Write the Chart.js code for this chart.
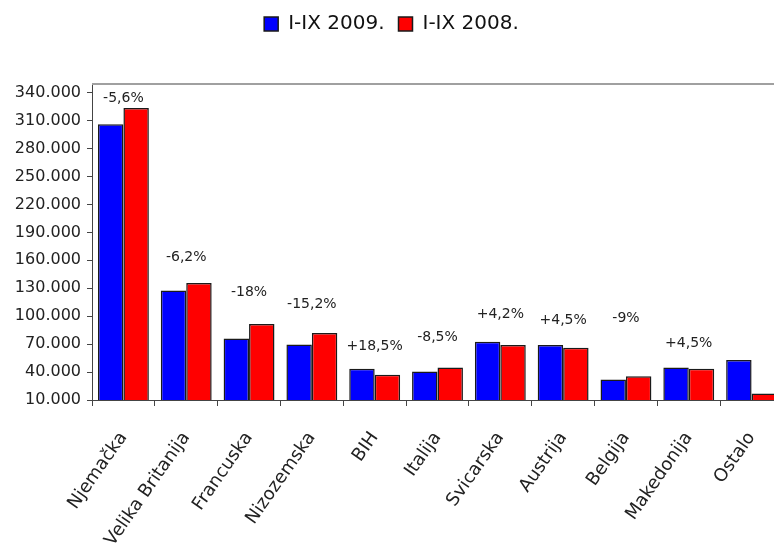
<!DOCTYPE html>
<html>
<head>
<meta charset="utf-8">
<script src="https://cdn.jsdelivr.net/npm/chart.js@4/dist/chart.umd.min.js"></script>
<style>
  html, body { margin: 0; padding: 0; background: #fff; overflow: hidden; }
  canvas { display: block; }
</style>
</head>
<body>
<canvas id="chart" width="792" height="547"></canvas>
<script>
// categories and values
var categories = ['Njemačka', 'Velika Britanija', 'Francuska', 'Nizozemska', 'BIH', 'Italija',
                  'Svicarska', 'Austrija', 'Belgija', 'Makedonija', 'Ostalo'];
var y2009 = [306000, 127500, 76000, 69500, 43500, 40500, 72500, 69000, 32000, 45000, 53000];
var y2008 = [323500, 135500, 91500, 82000, 37000, 45000, 69000, 66000, 35500, 43500, 17000];
// change labels and the value level they sit at
var changes = ['-5,6%', '-6,2%', '-18%', '-15,2%', '+18,5%', '-8,5%', '+4,2%', '+4,5%', '-9%', '+4,5%', ''];
var changeAt = [334000, 163500, 126000, 113000, 68000, 77500, 102000, 96000, 98000, 71000, null];
var yTicks = [10000, 40000, 70000, 100000, 130000, 160000, 190000, 220000, 250000, 280000, 310000, 340000];

Chart.defaults.font.family = '"DejaVu Sans", sans-serif';
Chart.defaults.color = '#222';

var legendSpace = {
    id: 'legendSpace',
    beforeInit: function (chart) {
        var fit = chart.legend.fit;
        chart.legend.fit = function () {
            fit.bind(chart.legend)();
            this.height = 84;
        };
    }
};

var frameTop = {
    id: 'frameTop',
    afterDraw: function (chart) {
        var a = chart.chartArea, ctx = chart.ctx;
        ctx.save();
        ctx.strokeStyle = '#a0a0a0';
        ctx.lineWidth = 2;
        ctx.beginPath();
        ctx.moveTo(a.left, a.top);
        ctx.lineTo(a.right, a.top);
        ctx.stroke();
        ctx.restore();
    }
};

var changeLabels = {
    id: 'changeLabels',
    afterDatasetsDraw: function (chart) {
        var ctx = chart.ctx, xs = chart.scales.x, ys = chart.scales.y;
        ctx.save();
        ctx.font = '14px "DejaVu Sans"';
        ctx.fillStyle = '#222';
        ctx.textAlign = 'center';
        ctx.textBaseline = 'middle';
        for (var i = 0; i < changes.length; i++) {
            if (!changes[i]) continue;
            ctx.fillText(changes[i], xs.getPixelForValue(i), ys.getPixelForValue(changeAt[i]));
        }
        ctx.restore();
    }
};

new Chart(document.getElementById('chart'), {
    type: 'bar',
    data: {
        labels: categories,
        datasets: [
            { label: 'I-IX 2009.', data: y2009, backgroundColor: '#0000ff', borderColor: '#1a1a1a', borderWidth: 1.5 },
            { label: 'I-IX 2008.', data: y2008, backgroundColor: '#ff0000', borderColor: '#1a1a1a', borderWidth: 1.5 }
        ]
    },
    options: {
        responsive: false,
        animation: false,
        layout: { padding: { top: 0, right: 9, left: 0, bottom: 0 } },
        datasets: { bar: { categoryPercentage: 0.81, barPercentage: 1.0 } },
        plugins: {
            legend: {
                position: 'top',
                labels: {
                    boxWidth: 14,
                    boxHeight: 14,
                    padding: 14,
                    color: '#111',
                    font: { size: 20 }
                }
            },
            tooltip: { enabled: false }
        },
        scales: {
            x: {
                grid: { offset: true, drawOnChartArea: false, tickLength: 6, tickColor: '#444' },
                border: { color: '#444', width: 1 },
                ticks: { minRotation: 55, maxRotation: 55, padding: 22, font: { size: 18 } },
                afterFit: function (s) { s.height = 147; }
            },
            y: {
                min: 10000,
                max: 349300,
                grid: { drawOnChartArea: false, tickLength: 5, tickColor: '#444' },
                border: { color: '#444', width: 1 },
                ticks: {
                    padding: 6,
                    font: { size: 16 },
                    callback: function (v) { return (v / 1000) + '.000'; }
                },
                afterBuildTicks: function (s) {
                    s.ticks = yTicks.map(function (v) { return { value: v }; });
                },
                afterFit: function (s) { s.width = 92; }
            }
        }
    },
    plugins: [legendSpace, frameTop, changeLabels]
});
</script>
</body>
</html>
